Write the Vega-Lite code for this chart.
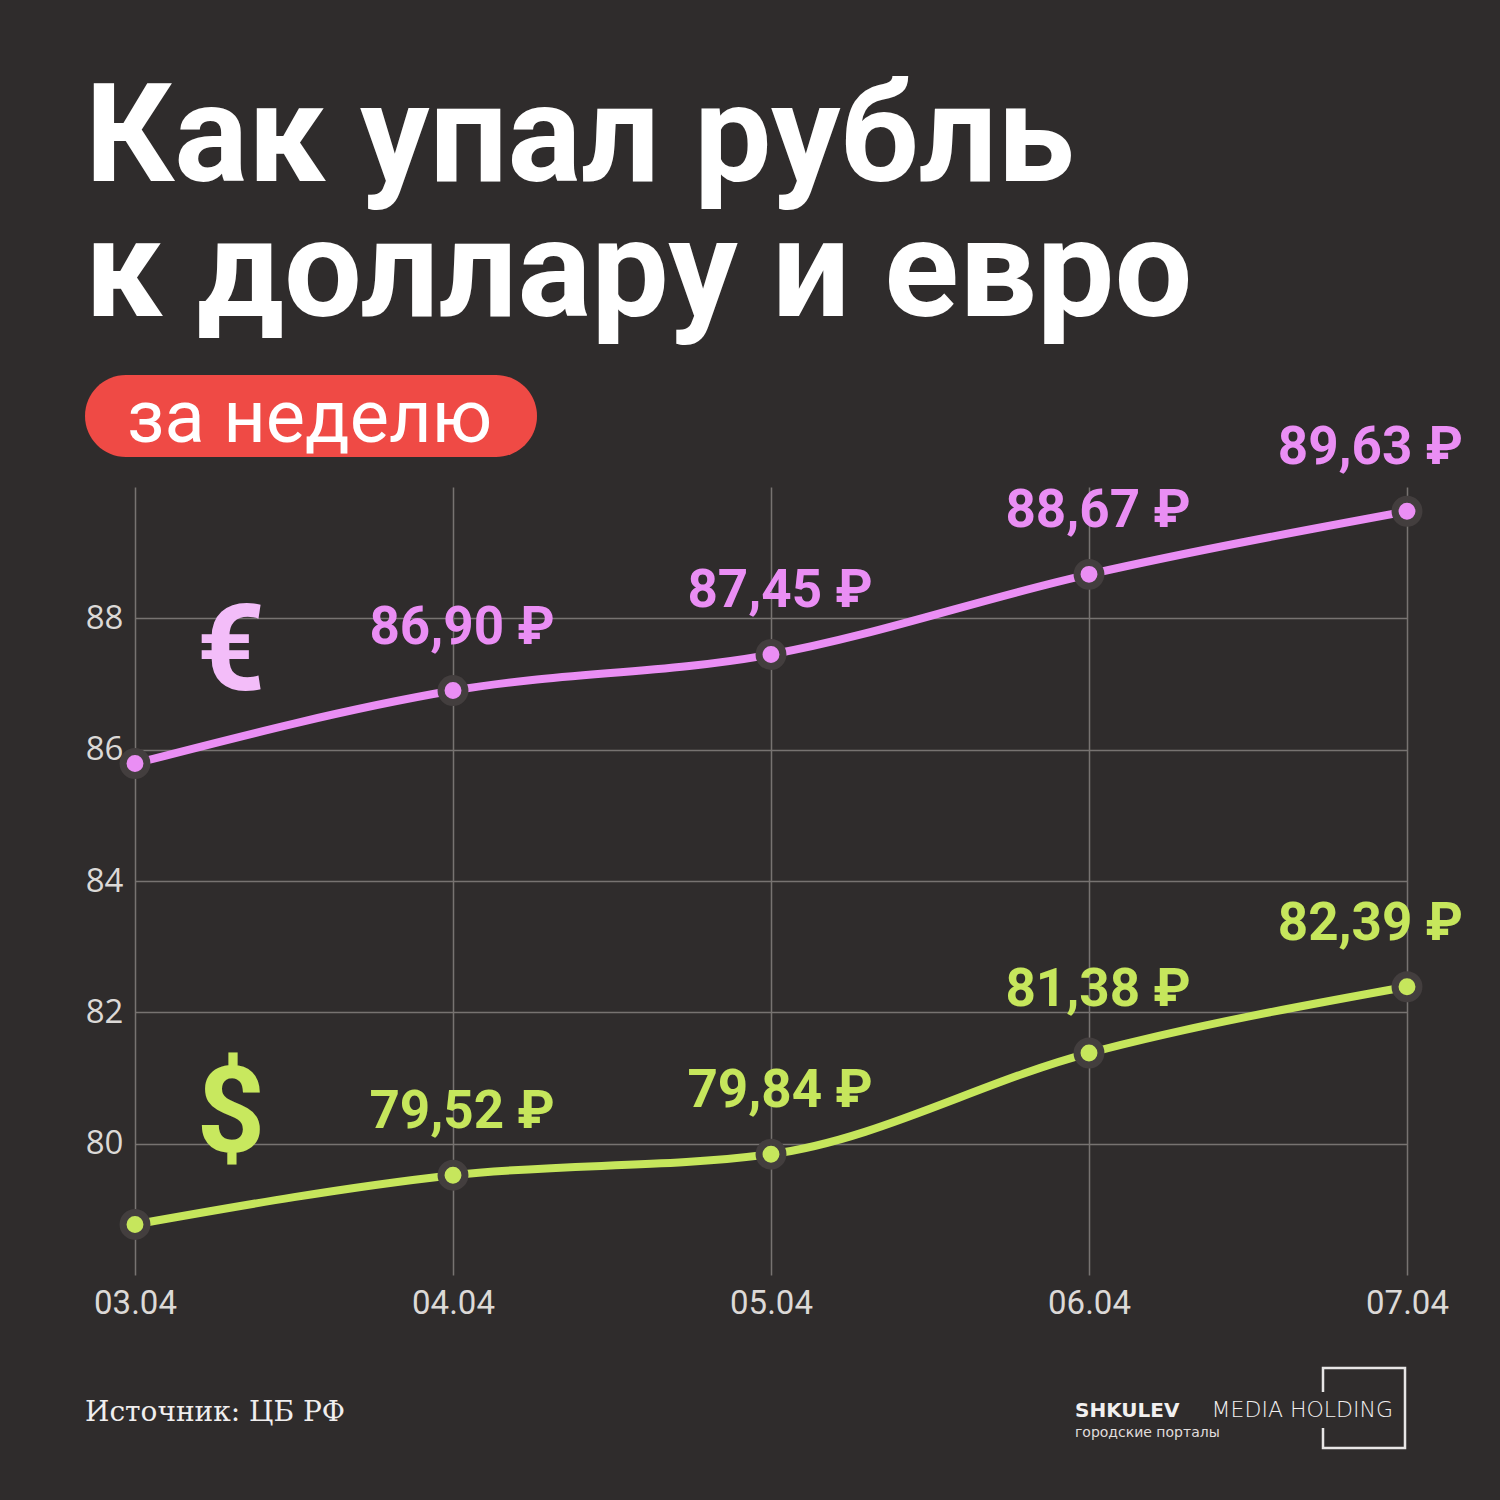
{
  "$schema": "https://vega.github.io/schema/vega-lite/v6.json",
  "autosize": {"type": "none"},
  "width": 1272,
  "height": 788,
  "padding": {"left": 135, "top": 487, "right": 93, "bottom": 225},
  "background": "#2f2c2c",
  "config": {"view": {"stroke": null}},
  "title": {
    "text": ["Как упал рубль", "к доллару и евро"],
    "anchor": "start",
    "frame": "group",
    "dx": -50,
    "offset": 30,
    "font": "Roboto",
    "fontWeight": "bold",
    "fontSize": 138,
    "lineHeight": 135,
    "color": "#ffffff"
  },
  "data": {
    "values": [
      {"date": "03.04", "currency": "EUR", "value": 85.79},
      {"date": "04.04", "currency": "EUR", "value": 86.90},
      {"date": "05.04", "currency": "EUR", "value": 87.45},
      {"date": "06.04", "currency": "EUR", "value": 88.67},
      {"date": "07.04", "currency": "EUR", "value": 89.63},
      {"date": "03.04", "currency": "USD", "value": 78.77},
      {"date": "04.04", "currency": "USD", "value": 79.52},
      {"date": "05.04", "currency": "USD", "value": 79.84},
      {"date": "06.04", "currency": "USD", "value": 81.38},
      {"date": "07.04", "currency": "USD", "value": 82.39}
    ]
  },
  "transform": [
    {"calculate": "replace(format(datum.value, '.2f'), '.', ',') + ' ₽'", "as": "label"}
  ],
  "encoding": {
    "x": {
      "field": "date", "type": "ordinal",
      "scale": {"type": "point", "padding": 0, "domain": ["03.04", "04.04", "05.04", "06.04", "07.04"]},
      "axis": {
        "title": null, "labelAngle": 0, "domain": false, "ticks": false,
        "labelFont": "Roboto", "labelFontSize": 33, "labelColor": "#dcd9d7", "labelPadding": 12,
        "grid": true, "gridColor": "#777371", "gridWidth": 1.5
      }
    },
    "y": {
      "field": "value", "type": "quantitative",
      "scale": {"domain": [78, 90], "nice": false, "zero": false},
      "axis": {
        "title": null, "values": [80, 82, 84, 86, 88], "domain": false, "ticks": false,
        "labelFont": "Open Sans", "labelFontSize": 33, "labelColor": "#dcd9d7", "labelPadding": 12,
        "grid": true, "gridColor": "#777371", "gridWidth": 1.5
      }
    },
    "color": {
      "field": "currency", "type": "nominal",
      "scale": {"domain": ["EUR", "USD"], "range": ["#ea8ef4", "#c6e65c"]},
      "legend": null
    }
  },
  "layer": [
    {
      "mark": {"type": "line", "interpolate": "monotone", "strokeWidth": 8, "strokeCap": "round"}
    },
    {
      "mark": {"type": "circle", "size": 572, "opacity": 1, "stroke": "#433e3e", "strokeWidth": 7}
    },
    {
      "transform": [{"filter": "datum.date !== '03.04' && datum.date !== '07.04'"}],
      "mark": {"type": "text", "font": "Roboto", "fontWeight": "bold", "fontSize": 53, "baseline": "alphabetic", "align": "center", "dx": 9, "dy": -47},
      "encoding": {"text": {"field": "label"}}
    },
    {
      "transform": [{"filter": "datum.date === '07.04'"}],
      "mark": {"type": "text", "font": "Roboto", "fontWeight": "bold", "fontSize": 53, "baseline": "alphabetic", "align": "right", "dx": 56, "dy": -47},
      "encoding": {"text": {"field": "label"}}
    },
    {
      "data": {"values": [{"symbol": "€"}]},
      "mark": {"type": "text", "font": "Roboto", "fontWeight": "bold", "fontSize": 120, "baseline": "alphabetic", "align": "center", "color": "#f3bdf9"},
      "encoding": {
        "x": {"value": 96},
        "y": {"value": 203},
        "text": {"field": "symbol"},
        "color": null
      }
    },
    {
      "data": {"values": [{"symbol": "$"}]},
      "mark": {"type": "text", "font": "Roboto", "fontWeight": "bold", "fontSize": 120, "baseline": "alphabetic", "align": "center", "color": "#c8e85e"},
      "encoding": {
        "x": {"value": 96},
        "y": {"value": 665},
        "text": {"field": "symbol"},
        "color": null
      }
    },
    {
      "data": {"values": [{"text": "за неделю"}]},
      "mark": {"type": "rect", "color": "#ef4a45", "cornerRadius": 41},
      "encoding": {
        "x": {"value": -50}, "x2": {"value": 402},
        "y": {"value": -112}, "y2": {"value": -30},
        "color": null
      }
    },
    {
      "data": {"values": [{"text": "за неделю"}]},
      "mark": {"type": "text", "font": "Roboto", "fontSize": 74, "baseline": "alphabetic", "align": "left", "color": "#ffffff"},
      "encoding": {
        "x": {"value": -8}, "y": {"value": -45},
        "text": {"field": "text"},
        "color": null
      }
    },
    {
      "data": {"values": [{"text": "Источник: ЦБ РФ"}]},
      "mark": {"type": "text", "font": "DejaVu Serif", "fontSize": 28, "baseline": "alphabetic", "align": "left", "color": "#f0eeee"},
      "encoding": {
        "x": {"value": -50}, "y": {"value": 934},
        "text": {"field": "text"},
        "color": null
      }
    },
    {
      "data": {"values": [{"text": "box"}]},
      "mark": {"type": "rect", "fill": null, "stroke": "#e8e6e6", "strokeWidth": 2.5},
      "encoding": {
        "x": {"value": 1188}, "x2": {"value": 1270},
        "y": {"value": 881}, "y2": {"value": 961},
        "color": null
      }
    },
    {
      "data": {"values": [{"text": "gap"}]},
      "mark": {"type": "rect", "color": "#2f2c2c"},
      "encoding": {
        "x": {"value": 1184}, "x2": {"value": 1192},
        "y": {"value": 905}, "y2": {"value": 941},
        "color": null
      }
    },
    {
      "data": {"values": [{"text": "SHKULEV"}]},
      "mark": {"type": "text", "font": "DejaVu Sans", "fontWeight": "bold", "fontSize": 20, "baseline": "alphabetic", "align": "left", "color": "#f2f0f0"},
      "encoding": {
        "x": {"value": 940}, "y": {"value": 930},
        "text": {"field": "text"},
        "color": null
      }
    },
    {
      "data": {"values": [{"text": "MEDIA HOLDING"}]},
      "mark": {"type": "text", "font": "DejaVu Sans", "fontWeight": 200, "fontSize": 22, "baseline": "alphabetic", "align": "right", "color": "#f2f0f0"},
      "encoding": {
        "x": {"value": 1258}, "y": {"value": 930},
        "text": {"field": "text"},
        "color": null
      }
    },
    {
      "data": {"values": [{"text": "городские порталы"}]},
      "mark": {"type": "text", "font": "DejaVu Sans", "fontSize": 14, "baseline": "alphabetic", "align": "left", "color": "#e0dede"},
      "encoding": {
        "x": {"value": 940}, "y": {"value": 950},
        "text": {"field": "text"},
        "color": null
      }
    }
  ]
}
